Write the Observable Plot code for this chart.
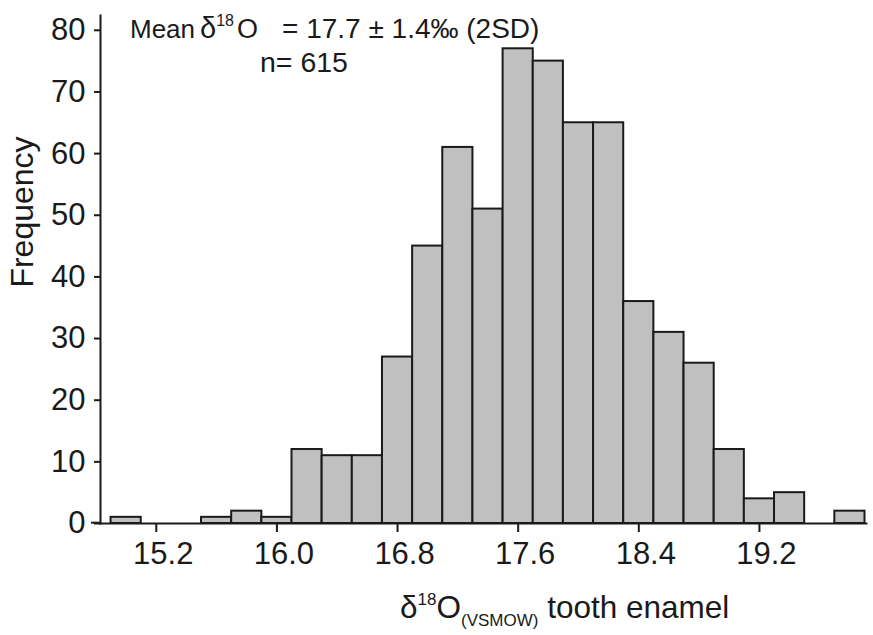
<!DOCTYPE html>
<html><head><meta charset="utf-8">
<script src="https://cdn.jsdelivr.net/npm/d3@7"></script>
<script src="https://cdn.jsdelivr.net/npm/@observablehq/plot@0.6"></script>
<style>body{margin:0;background:#fff} svg{display:block}</style>
</head><body><div id="chart"></div>
<script>
// Histogram bins (centre of each 0.2‰ bin) and their frequencies
const binCenters = [15.0,15.2,15.4,15.6,15.8,16.0,16.2,16.4,16.6,16.8,17.0,17.2,17.4,17.6,17.8,18.0,18.2,18.4,18.6,18.8,19.0,19.2,19.4,19.6,19.8];
const frequencies = [1,0,0,1,2,1,12,11,11,27,45,61,51,77,75,65,65,36,31,26,12,4,5,0,2];
const binWidth = 0.2;
const xTicks = [15.2,16.0,16.8,17.6,18.4,19.2];
const yTicks = [0,10,20,30,40,50,60,70,80];
const yLabel = "Frequency";
const meanText = ["Mean", "δ", "18", "O", "= 17.7 ± 1.4‰ (2SD)"];
const nText = "n= 615";
const xLabelParts = ["δ", "18", "O", "(VSMOW)", " tooth enamel"];

const bins = binCenters.map((c, i) => ({x1: c - binWidth / 2, x2: c + binWidth / 2, count: frequencies[i]}))
  .filter(d => d.count > 0);

const font = "'Liberation Sans', Arial, Helvetica, sans-serif";
const ink = "#1a1a1a";

const plot = Plot.plot({
  width: 873, height: 635,
  marginLeft: 100, marginRight: 7, marginTop: 15, marginBottom: 112,
  style: {fontFamily: font, background: "#fff", color: ink, overflow: "visible"},
  x: {domain: [14.83, 19.91]},
  y: {domain: [0, 82.4]},
  marks: [
    Plot.rectY(bins, {x1: "x1", x2: "x2", y: "count", fill: "#c0c0c0", stroke: ink, strokeWidth: 2}),
    Plot.axisX({ticks: xTicks, tickSize: 9, tickFormat: () => "", strokeWidth: 2, label: null}),
    Plot.axisX({ticks: xTicks, tickSize: 0, tickPadding: 18, dx: 7, fontSize: 31, tickFormat: d => d.toFixed(1), label: null}),
    Plot.axisY({ticks: yTicks, tickSize: 6, tickPadding: 9, fontSize: 31, strokeWidth: 2, label: null}),
    Plot.frame({anchor: "left", stroke: ink, strokeWidth: 2}),
    Plot.frame({anchor: "bottom", stroke: ink, strokeWidth: 2})
  ]
});

const svg = d3.select(plot);
// extend x axis line slightly left of the y axis
svg.append("line").attr("x1", 91).attr("x2", 100).attr("y1", 522.7).attr("y2", 522.7)
  .attr("stroke", ink).attr("stroke-width", 2);

svg.append("text")
  .attr("transform", "translate(33,212) rotate(-90)")
  .attr("text-anchor", "middle").attr("font-size", 32).attr("fill", ink)
  .text(yLabel);

const t1 = svg.append("text").attr("x", 130).attr("y", 38).attr("font-size", 26)
  .attr("text-anchor", "start").attr("fill", ink);
t1.append("tspan").attr("font-size", 26).text(meanText[0]);
t1.append("tspan").attr("x", 200).attr("font-size", 29).text(meanText[1]);
t1.append("tspan").attr("font-size", 16).attr("dy", -12).text(meanText[2]);
t1.append("tspan").attr("x", 237).attr("dy", 12).attr("font-size", 27).text(meanText[3]);
t1.append("tspan").attr("x", 282).attr("font-size", 28).text(meanText[4]);

svg.append("text").attr("x", 260).attr("y", 72).attr("font-size", 28.5)
  .attr("text-anchor", "start").attr("fill", ink).text(nText);

const t2 = svg.append("text").attr("x", 400).attr("y", 618).attr("font-size", 31.5)
  .attr("text-anchor", "start").attr("fill", ink);
t2.append("tspan").text(xLabelParts[0]);
t2.append("tspan").attr("font-size", 17).attr("dy", -13).text(xLabelParts[1]);
t2.append("tspan").attr("dy", 13).text(xLabelParts[2]);
t2.append("tspan").attr("font-size", 17).attr("dy", 8).text(xLabelParts[3]);
t2.append("tspan").attr("dy", -8).text(xLabelParts[4]);

document.getElementById("chart").append(plot);
</script>
</body></html>
